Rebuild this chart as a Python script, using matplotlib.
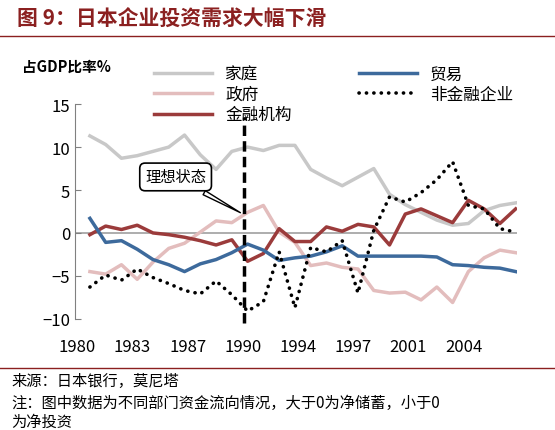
import matplotlib
matplotlib.use("Agg")
import matplotlib.pyplot as plt
from matplotlib.lines import Line2D

plt.rcParams['font.family'] = ['Noto Sans CJK SC', 'DejaVu Sans']

years = list(range(1980, 2008))
tick_years = [1980, 1983, 1987, 1990, 1994, 1997, 2001, 2004]
household = [11.3, 10.3, 8.7, 9.0, 9.5, 10.0, 11.4, 9.1, 7.4, 9.5, 10.0, 9.6, 10.2, 10.2, 7.4, 6.4, 5.5, 6.5, 7.5, 4.5, 3.3, 2.4, 1.5, 0.9, 1.1, 2.6, 3.2, 3.5]
government = [-4.5, -4.8, -3.7, -5.4, -3.4, -1.8, -1.2, 0.1, 1.4, 1.2, 2.4, 3.2, 0.1, -1.1, -3.8, -3.5, -4.0, -4.2, -6.7, -7.0, -6.9, -7.8, -6.3, -8.1, -4.5, -2.9, -2.0, -2.3]
trade = [1.7, -1.1, -0.9, -1.9, -3.1, -3.7, -4.5, -3.6, -3.1, -2.3, -1.3, -2.0, -3.2, -2.9, -2.7, -2.2, -1.5, -2.7, -2.7, -2.7, -2.7, -2.7, -2.8, -3.7, -3.8, -4.0, -4.1, -4.5]
financial = [-0.2, 0.8, 0.4, 0.9, 0.0, -0.2, -0.5, -0.9, -1.4, -0.8, -3.3, -2.4, 0.5, -1.0, -1.0, 0.7, 0.2, 1.0, 0.7, -1.4, 2.2, 2.8, 2.0, 1.2, 3.8, 2.8, 1.1, 2.8]
nonfin = [-6.3, -4.9, -5.5, -4.2, -5.2, -5.9, -6.7, -7.1, -5.6, -7.2, -9.1, -8.0, -2.2, -8.7, -1.7, -2.2, -0.9, -7.0, 0.3, 4.2, 3.6, 4.7, 6.2, 8.3, 3.2, 2.8, 0.5, 0.1]

fig = plt.figure(figsize=(5.55, 4.31), dpi=100)
ax = fig.add_axes([0.135, 0.258, 0.797, 0.498])
x = [y - 1980 for y in years]
l1, = ax.plot(x, household, color='#C8C8C8', lw=2.5, label='家庭')
l2, = ax.plot(x, government, color='#E3BDBD', lw=2.5, label='政府')
l3, = ax.plot(x, financial, color='#9B3B3B', lw=2.5, label='金融机构')
l4, = ax.plot(x, trade, color='#3D6A9C', lw=2.5, label='贸易')
l5, = ax.plot(x, nonfin, color='black', lw=2.6, ls=(0, (0.05, 2.0)), dash_capstyle='round', label='非金融企业')
ax.axhline(0, color='#A0A0A0', lw=1.2, zorder=0)
ax.plot([9.8, 9.8], [-10.5, 13.5], color='black', lw=2.5, ls=(0, (3, 1.5)), clip_on=False)

ax.set_xlim(-0.95, 27.1)
ax.set_ylim(-10, 15)
ax.set_yticks([-10, -5, 0, 5, 10, 15])
ax.set_xticks([-0.8 + 3.5 * i for i in range(len(tick_years))])
ax.set_xticklabels([str(t) for t in tick_years], fontsize=12)
ax.tick_params(axis='x', length=0, pad=14)
ax.tick_params(axis='y', labelsize=12, direction='in', length=4, color='#808080')
for s in ['top', 'right', 'bottom']:
    ax.spines[s].set_visible(False)
ax.spines['left'].set_color('#808080')

ax.annotate('理想状态', xy=(9.7, 2.2), xytext=(3.5, 6.0), fontsize=11,
            bbox=dict(boxstyle='round,pad=0.35', fc='white', ec='black', lw=1.2),
            arrowprops=dict(arrowstyle='wedge,tail_width=0.3', fc='white', ec='black', lw=1))

fig.legend(handles=[l1, l2, l3, l4, l5], ncol=2, loc='upper left', bbox_to_anchor=(0.25, 0.88),
           frameon=False, fontsize=12, handlelength=3.5, columnspacing=4, labelspacing=0.2)

fig.text(0.03, 0.955, '图 9：日本企业投资需求大幅下滑', fontsize=15, fontweight='bold', color='#8B2020', va='center')
fig.add_artist(Line2D([0.0, 1.0], [0.915, 0.915], color='#8B2020', lw=1))
fig.text(0.04, 0.845, '占GDP比率%', fontsize=10.5, fontweight='bold', va='center')
fig.add_artist(Line2D([0.0, 1.0], [0.145, 0.145], color='#8B2020', lw=1))
fig.text(0.02, 0.115, '来源：日本银行，莫尼塔', fontsize=11, va='center')
fig.text(0.02, 0.065, '注：图中数据为不同部门资金流向情况，大于0为净储蓄，小于0', fontsize=11, va='center')
fig.text(0.02, 0.02, '为净投资', fontsize=11, va='center')
fig.savefig('out.png', dpi=100)
